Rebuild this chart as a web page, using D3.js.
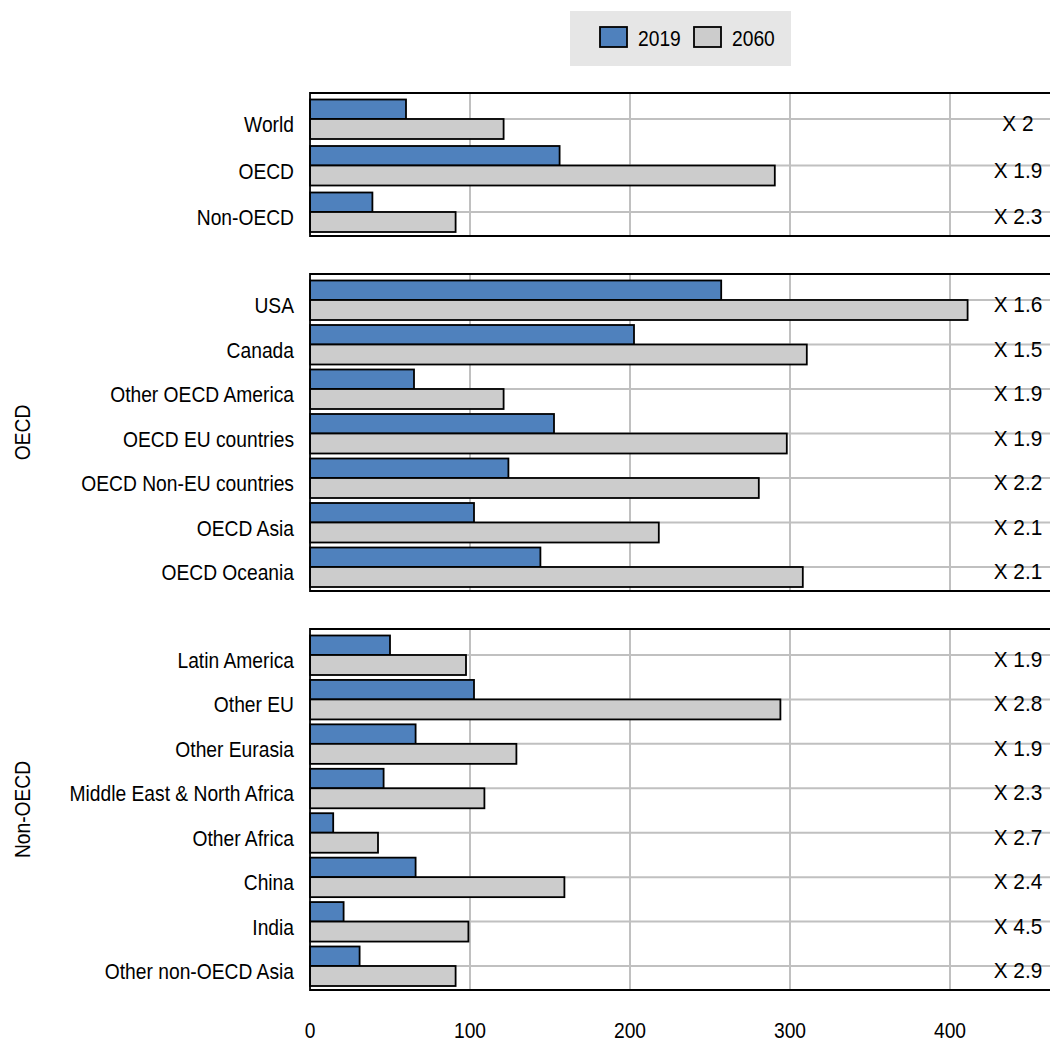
<!DOCTYPE html>
<html>
<head>
<meta charset="utf-8">
<script src="https://cdn.jsdelivr.net/npm/d3@7"></script>
<style>
  html, body { margin: 0; padding: 0; background: #fff; }
  svg { display: block; font-family: "Liberation Sans", Arial, sans-serif; }
</style>
</head>
<body>
<svg id="chart" width="1051" height="1044"></svg>
<script>
// ---- Data ----
const series = ["2019", "2060"];
const panel1Categories = ["World", "OECD", "Non-OECD"];
const panel1Values2019 = [60, 156, 39];
const panel1Values2060 = [121, 290.5, 91];
const panel1Ratios = ["X 2", "X 1.9", "X 2.3"];

const panel2Categories = ["USA", "Canada", "Other OECD America", "OECD EU countries", "OECD Non-EU countries", "OECD Asia", "OECD Oceania"];
const panel2Values2019 = [257, 202.5, 65, 152.5, 124, 102.5, 144];
const panel2Values2060 = [411, 310.5, 121, 298, 280.5, 218, 308];
const panel2Ratios = ["X 1.6", "X 1.5", "X 1.9", "X 1.9", "X 2.2", "X 2.1", "X 2.1"];

const panel3Categories = ["Latin America", "Other EU", "Other Eurasia", "Middle East & North Africa", "Other Africa", "China", "India", "Other non-OECD Asia"];
const panel3Values2019 = [50, 102.5, 66, 46, 14.5, 66, 21, 31];
const panel3Values2060 = [97.5, 294, 129, 109, 42.5, 159, 99, 91];
const panel3Ratios = ["X 1.9", "X 2.8", "X 1.9", "X 2.3", "X 2.7", "X 2.4", "X 4.5", "X 2.9"];

const groupLabels = ["", "OECD", "Non-OECD"];
const xTicks = [0, 100, 200, 300, 400];

// ---- Layout ----
const colors = { "2019": "#4f81bd", "2060": "#cccccc" };
const plotLeft = 310, plotRight = 1050;
const fs = 21.5, sx = 0.895, sxr = 0.97;
const panels = [
  { cats: panel1Categories, v1: panel1Values2019, v2: panel1Values2060, ratios: panel1Ratios, top: 93, bottom: 236, group: groupLabels[0] },
  { cats: panel2Categories, v1: panel2Values2019, v2: panel2Values2060, ratios: panel2Ratios, top: 274, bottom: 591, group: groupLabels[1] },
  { cats: panel3Categories, v1: panel3Values2019, v2: panel3Values2060, ratios: panel3Ratios, top: 629, bottom: 990, group: groupLabels[2] }
];

const svg = d3.select("#chart");
const x = d3.scaleLinear().domain([0, 462.5]).range([plotLeft, plotRight]);

panels.forEach(p => {
  const y = d3.scalePoint().domain(p.cats).range([p.top + 26, p.bottom - 24]);
  const g = svg.append("g");

  g.selectAll("line.vg").data(xTicks.filter(t => t > 0)).join("line")
    .attr("x1", d => x(d)).attr("x2", d => x(d))
    .attr("y1", p.top).attr("y2", p.bottom)
    .attr("stroke", "#c0c0c0").attr("stroke-width", 2);
  g.selectAll("line.hg").data(p.cats).join("line")
    .attr("x1", plotLeft).attr("x2", plotRight)
    .attr("y1", d => y(d)).attr("y2", d => y(d))
    .attr("stroke", "#c0c0c0").attr("stroke-width", 2);

  const barH = 19.5;
  g.selectAll("rect.b1").data(p.cats).join("rect")
    .attr("x", x(0)).attr("y", d => y(d) - barH)
    .attr("width", (d, i) => x(p.v1[i]) - x(0)).attr("height", barH)
    .attr("fill", colors["2019"]).attr("stroke", "#000").attr("stroke-width", 1.8);
  g.selectAll("rect.b2").data(p.cats).join("rect")
    .attr("x", x(0)).attr("y", d => y(d))
    .attr("width", (d, i) => x(p.v2[i]) - x(0)).attr("height", barH + 0.5)
    .attr("fill", colors["2060"]).attr("stroke", "#000").attr("stroke-width", 1.8);

  g.append("path")
    .attr("d", `M${plotRight},${p.top}H${plotLeft}V${p.bottom}H${plotRight}`)
    .attr("fill", "none").attr("stroke", "#000").attr("stroke-width", 1.8);

  g.selectAll("text.cat").data(p.cats).join("text")
    .attr("transform", d => `translate(294,${y(d) + 13}) scale(${sx},1)`)
    .attr("text-anchor", "end")
    .attr("font-size", fs).attr("fill", "#000")
    .text(d => d);
  g.selectAll("text.ratio").data(p.ratios).join("text")
    .attr("transform", (d, i) => `translate(1018,${y(p.cats[i]) + 12}) scale(${sxr},1)`)
    .attr("text-anchor", "middle")
    .attr("font-size", fs).attr("fill", "#000")
    .text(d => d);

  if (p.group) {
    const cy = (p.top + p.bottom) / 2;
    g.append("text")
      .attr("transform", `translate(30,${cy}) rotate(-90) scale(${sx},1)`)
      .attr("text-anchor", "middle")
      .attr("font-size", fs).attr("fill", "#000")
      .text(p.group);
  }
});

// x-axis tick labels
svg.append("g").selectAll("text").data(xTicks).join("text")
  .attr("transform", d => `translate(${x(d)},1038) scale(${sx},1)`)
  .attr("text-anchor", "middle")
  .attr("font-size", fs).attr("fill", "#000")
  .text(d => d);

// legend
const lg = svg.append("g");
lg.append("rect").attr("x", 570).attr("y", 11).attr("width", 221).attr("height", 55).attr("fill", "#e6e6e6");
const legendItems = lg.selectAll("g.item").data(series).join("g")
  .attr("transform", (d, i) => `translate(${600 + i * 94},27)`);
legendItems.append("rect").attr("width", 27).attr("height", 20)
  .attr("fill", d => colors[d]).attr("stroke", "#000").attr("stroke-width", 1.8);
legendItems.append("text").attr("transform", `translate(38,19) scale(${sx},1)`)
  .attr("font-size", fs).attr("fill", "#000")
  .text(d => d);
</script>
</body>
</html>
